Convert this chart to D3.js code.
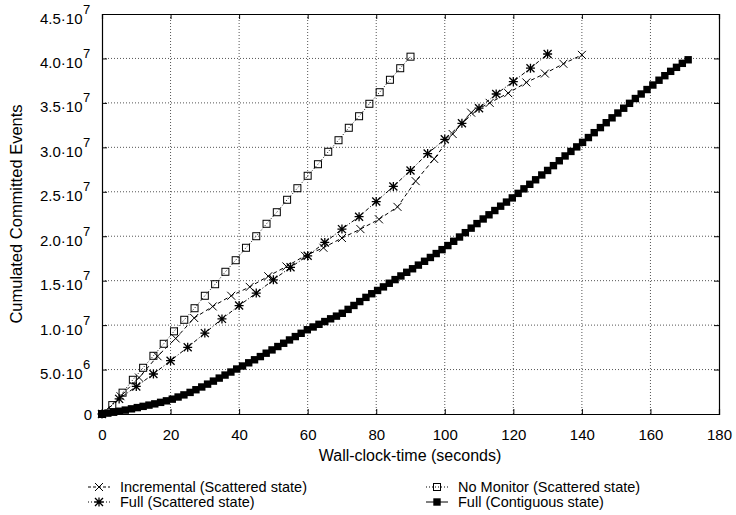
<!DOCTYPE html>
<html>
<head>
<meta charset="utf-8">
<script src="https://cdn.jsdelivr.net/npm/d3@7"></script>
<style>
  body { margin: 0; background: #fff; }
  svg text { font-family: "Liberation Sans", Arial, Helvetica, sans-serif; fill: #000; }
</style>
</head>
<body>
<svg id="chart" width="736" height="515"></svg>
<script>
// ---------------- DATA ----------------
const xTicks = [0, 20, 40, 60, 80, 100, 120, 140, 160, 180];
const yTicks = [0, 5e6, 1e7, 1.5e7, 2e7, 2.5e7, 3e7, 3.5e7, 4e7, 4.5e7];
const yTickMantissa = ["0", "5.0", "1.0", "1.5", "2.0", "2.5", "3.0", "3.5", "4.0", "4.5"];
const yTickExponent = ["", "6", "7", "7", "7", "7", "7", "7", "7", "7"];

// Incremental (Scattered state) — values in millions of events
const incX = [0, 5.4, 10.8, 16.2, 21.5, 26.9, 32.3, 37.7, 43.1, 48.5, 53.8, 59.2, 64.6, 70.0,
  75.4, 80.8, 86.2, 91.5, 96.9, 102.3, 107.7, 113.1, 118.5, 123.8, 129.2, 134.6, 140.0];
const incY = [0, 2.0, 4.1, 6.5, 8.5, 10.8, 12.1, 13.3, 14.3, 15.5, 16.6, 17.8, 18.7, 19.8,
  20.8, 21.9, 23.3, 26.2, 28.7, 31.5, 33.9, 35.0, 36.1, 37.3, 38.3, 39.4, 40.4];

// Full (Scattered state)
const fullScX = [0, 5, 10, 15, 20, 25, 30, 35, 40, 45, 50, 55, 60, 65, 70, 75, 80, 85, 90, 95,
  100, 105, 110, 115, 120, 125, 130];
const fullScY = [0, 1.7, 3.1, 4.5, 6.0, 7.5, 9.1, 10.7, 12.2, 13.6, 15.1, 16.5, 17.8, 19.3, 20.8,
  22.2, 23.9, 25.6, 27.4, 29.3, 30.9, 32.7, 34.4, 36.0, 37.4, 38.9, 40.5];

// No Monitor (Scattered state)
const noMonX = [0, 3, 6, 9, 12, 15, 18, 21, 24, 27, 30, 33, 36, 39, 42, 45, 48, 51, 54, 57, 60,
  63, 66, 69, 72, 75, 78, 81, 84, 87, 90];
const noMonY = [0, 1.0, 2.4, 3.85, 5.2, 6.55, 7.9, 9.3, 10.6, 11.9, 13.3, 14.6, 16.0, 17.3, 18.7,
  20.0, 21.4, 22.7, 24.1, 25.4, 26.8, 28.1, 29.5, 30.8, 32.2, 33.5, 34.9, 36.2, 37.6, 38.9, 40.2];

// Full (Contiguous state)
const contX = [0, 1.7, 3.4, 5.1, 6.8, 8.6, 10.3, 12.0, 13.7, 15.4, 17.1, 18.8, 20.5, 22.2, 23.9,
  25.7, 27.4, 29.1, 30.8, 32.5, 34.2, 35.9, 37.6, 39.3, 41.0, 42.8, 44.5, 46.2, 47.9, 49.6, 51.3,
  53.0, 54.7, 56.4, 58.1, 59.9, 61.6, 63.3, 65.0, 66.7, 68.4, 70.1, 71.8, 73.5, 75.2, 77.0, 78.7,
  80.4, 82.1, 83.8, 85.5, 87.2, 88.9, 90.6, 92.3, 94.1, 95.8, 97.5, 99.2, 100.9, 102.6, 104.3,
  106.0, 107.7, 109.4, 111.2, 112.9, 114.6, 116.3, 118.0, 119.7, 121.4, 123.1, 124.8, 126.5,
  128.3, 130.0, 131.7, 133.4, 135.1, 136.8, 138.5, 140.2, 141.9, 143.6, 145.4, 147.1, 148.8,
  150.5, 152.2, 153.9, 155.6, 157.3, 159.0, 160.7, 162.5, 164.2, 165.9, 167.6, 169.3, 171.0];
const contY = [0, 0.10, 0.20, 0.31, 0.44, 0.58, 0.72, 0.86, 1.00, 1.14, 1.31, 1.48, 1.67, 1.91, 2.15,
  2.43, 2.73, 3.04, 3.36, 3.70, 4.04, 4.38, 4.72, 5.06, 5.40, 5.76, 6.10, 6.46, 6.84, 7.21, 7.59,
  7.96, 8.33, 8.71, 9.08, 9.48, 9.79, 10.09, 10.40, 10.71, 11.01, 11.33, 11.77, 12.21, 12.65, 13.12, 13.53,
  13.90, 14.30, 14.71, 15.12, 15.53, 15.94, 16.34, 16.75, 17.18, 17.61, 18.05, 18.49, 18.95, 19.43, 19.91,
  20.40, 20.91, 21.42, 21.94, 22.41, 22.89, 23.38, 23.84, 24.31, 24.82, 25.33, 25.84, 26.35,
  26.89, 27.40, 27.94, 28.49, 29.03, 29.54, 30.05, 30.56, 31.10, 31.65, 32.22, 32.77, 33.32,
  33.86, 34.40, 34.95, 35.49, 36.00, 36.50, 37.01, 37.55, 38.06, 38.55, 39.00, 39.45, 39.85];

const seriesNames = ["Incremental (Scattered state)", "No Monitor (Scattered state)",
  "Full (Scattered state)", "Full (Contiguous state)"];

// ---------------- CHART ----------------
const svg = d3.select("#chart");
const L = 102, R = 719, T = 14, B = 414;
const x = d3.scaleLinear().domain([0, 180]).range([L, R]);
const y = d3.scaleLinear().domain([0, 4.5e7]).range([B, T]);

const series = [
  { name: seriesNames[0], xs: incX, ys: incY, dash: "4,3", legDash: "3,2", marker: "cross" },
  { name: seriesNames[2], xs: fullScX, ys: fullScY, dash: "4,2,1,2", legDash: "1,2", marker: "star" },
  { name: seriesNames[1], xs: noMonX, ys: noMonY, dash: "1,2", legDash: "1,2", marker: "box" },
  { name: seriesNames[3], xs: contX, ys: contY, dash: null, legDash: null, marker: "fbox" }
];

// grid
const grid = svg.append("g");
xTicks.slice(1, -1).forEach(t => {
  grid.append("line").attr("x1", x(t)).attr("x2", x(t)).attr("y1", T).attr("y2", B)
    .attr("stroke", "#555").attr("stroke-width", 1).attr("stroke-dasharray", "1,2");
});
yTicks.slice(1, -1).forEach(t => {
  grid.append("line").attr("x1", L).attr("x2", R).attr("y1", y(t)).attr("y2", y(t))
    .attr("stroke", "#555").attr("stroke-width", 1).attr("stroke-dasharray", "1,2");
});

// axes with inward ticks (mirrored)
const axB = d3.axisBottom(x).tickValues(xTicks).tickSize(-5).tickPadding(15).tickFormat(d3.format("d"));
const gB = svg.append("g").attr("transform", `translate(0,${B})`).call(axB);
const axT = d3.axisTop(x).tickValues(xTicks).tickSize(-5).tickFormat("");
const gT = svg.append("g").attr("transform", `translate(0,${T})`).call(axT);
const axL = d3.axisLeft(y).tickValues(yTicks).tickSize(-5).tickFormat("");
const gL = svg.append("g").attr("transform", `translate(${L},0)`).call(axL);
const axR = d3.axisRight(y).tickValues(yTicks).tickSize(-5).tickFormat("");
const gR = svg.append("g").attr("transform", `translate(${R},0)`).call(axR);
[gB, gT, gL, gR].forEach(g => {
  g.select(".domain").attr("stroke", "#000").attr("stroke-width", 1.2);
  g.selectAll(".tick line").attr("stroke", "#000");
});
gB.selectAll(".tick text").attr("font-size", 15).attr("font-family", "Liberation Sans, Arial, sans-serif");

// y tick labels with superscripts
yTicks.forEach((t, i) => {
  if (yTickExponent[i]) {
    svg.append("text").attr("x", 82.5).attr("y", y(t) + 9.5)
      .attr("text-anchor", "end").attr("font-size", 15).text(yTickMantissa[i] + "\u00B710");
    svg.append("text").attr("x", 83).attr("y", y(t) - 0.5).attr("font-size", 13)
      .attr("text-anchor", "start").text(yTickExponent[i]);
  } else {
    svg.append("text").attr("x", 92).attr("y", y(t) + 5.5)
      .attr("text-anchor", "end").attr("font-size", 15).text(yTickMantissa[i]);
  }
});

// axis labels
svg.append("text").attr("x", 410).attr("y", 461).attr("text-anchor", "middle")
  .attr("font-size", 16).text("Wall-clock-time (seconds)");
svg.append("text").attr("transform", `translate(22,${(T + B) / 2}) rotate(-90)`)
  .attr("text-anchor", "middle").attr("font-size", 16.5).text("Cumulated Committed Events");

// markers
function drawMarker(g, type, cx, cy) {
  if (type === "cross") {
    const s = 4;
    g.append("path").attr("d", `M${cx - s},${cy - s}L${cx + s},${cy + s}M${cx - s},${cy + s}L${cx + s},${cy - s}`)
      .attr("stroke", "#000").attr("stroke-width", 1).attr("fill", "none");
  } else if (type === "star") {
    const s = 4;
    g.append("path").attr("d", `M${cx - s},${cy - s}L${cx + s},${cy + s}M${cx - s},${cy + s}L${cx + s},${cy - s}M${cx - s - 0.5},${cy}L${cx + s + 0.5},${cy}M${cx},${cy - s - 0.5}L${cx},${cy + s + 0.5}`)
      .attr("stroke", "#000").attr("stroke-width", 1.3).attr("fill", "none");
  } else if (type === "box") {
    const s = 3.5;
    g.append("rect").attr("x", cx - s).attr("y", cy - s).attr("width", 2 * s).attr("height", 2 * s)
      .attr("stroke", "#000").attr("stroke-width", 1).attr("fill", "none");
  } else if (type === "fbox") {
    const s = 3.7;
    g.append("rect").attr("x", cx - s).attr("y", cy - s).attr("width", 2 * s).attr("height", 2 * s)
      .attr("fill", "#000");
  }
}

const line = d3.line().x(d => x(d[0])).y(d => y(d[1] * 1e6));
series.forEach(s => {
  const pts = s.xs.map((v, i) => [v, s.ys[i]]);
  const g = svg.append("g");
  const p = g.append("path").datum(pts).attr("d", line).attr("fill", "none")
    .attr("stroke", "#000").attr("stroke-width", 1);
  if (s.dash) p.attr("stroke-dasharray", s.dash);
  pts.forEach(d => drawMarker(g, s.marker, x(d[0]), y(d[1] * 1e6)));
});

// legend
const legend = [
  { s: series[0], lx: 99, ty: 492 },
  { s: series[1], lx: 99, ty: 507 },
  { s: series[2], lx: 437, ty: 492 },
  { s: series[3], lx: 437, ty: 507 }
];
legend.forEach(it => {
  const g = svg.append("g");
  const ly = it.ty - 5;
  const ln = g.append("line").attr("x1", it.lx - 11).attr("x2", it.lx + 11).attr("y1", ly).attr("y2", ly)
    .attr("stroke", "#000").attr("stroke-width", 1);
  if (it.s.legDash) ln.attr("stroke-dasharray", it.s.legDash);
  drawMarker(g, it.s.marker, it.lx, ly);
  g.append("text").attr("x", it.lx + 21).attr("y", it.ty).attr("font-size", 14.5).text(it.s.name);
});
</script>
</body>
</html>
